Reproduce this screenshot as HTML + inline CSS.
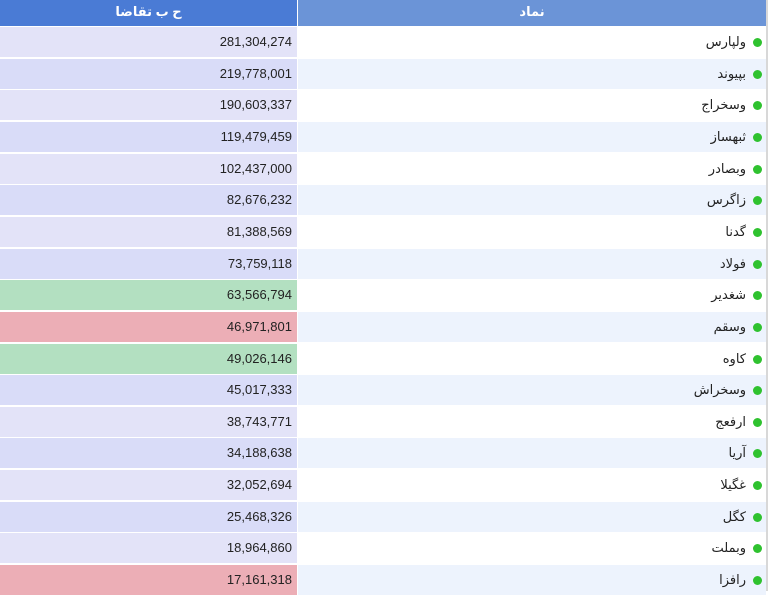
<!DOCTYPE html>
<html><head><meta charset="utf-8"><style>
body{margin:0;width:768px;height:591px;overflow:hidden;background:#fff;font-family:"Liberation Sans","DejaVu Sans",sans-serif;}
.hdr{position:absolute;top:0;height:26px;color:#fff;font-size:13px;font-weight:bold;text-align:center;line-height:24px;}
.row{position:absolute;left:0;width:766px;height:30px;}
.c1{position:absolute;left:0;width:297px;height:30px;text-align:right;box-sizing:border-box;padding-right:5px;line-height:30px;font-size:13px;color:#222;}
.c2{position:absolute;left:298px;width:468px;height:30px;box-sizing:border-box;padding-right:20px;text-align:right;direction:rtl;line-height:30px;font-size:13px;color:#222;font-family:"Liberation Sans","DejaVu Sans",sans-serif;}
.dot{position:absolute;right:4px;top:11px;width:9px;height:9px;border-radius:50%;background:#2fc22f;}
</style></head><body>
<div class="hdr" style="left:0;width:297px;background:#4a7bd5;">ح ب تقاضا</div>
<div class="hdr" style="left:298px;width:468px;background:#6b94d7;">نماد</div>
<div style="position:absolute;left:766px;top:0;width:2px;height:591px;background:#d8d8d8"></div>
<div id="tbl"></div>
<script>
const symbols=["ولپارس","بپیوند","وسخراج","ثبهساز","وبصادر","زاگرس","گدنا","فولاد","شغدیر","وسقم","کاوه","وسخراش","ارفعج","آریا","غگیلا","کگل","وبملت","رافزا"];
const values=["281,304,274","219,778,001","190,603,337","119,479,459","102,437,000","82,676,232","81,388,569","73,759,118","63,566,794","46,971,801","49,026,146","45,017,333","38,743,771","34,188,638","32,052,694","25,468,326","18,964,860","17,161,318"];
const status=["n","n","n","n","n","n","n","n","g","r","g","n","n","n","n","n","n","r"];
const tbl=document.getElementById('tbl');
symbols.forEach((s,i)=>{
  const r=document.createElement('div');r.className='row';
  
  
  r.style.top=(27+i*31.65)+'px';
  const c1=document.createElement('div');c1.className='c1';
  
  
  c1.textContent=values[i];
  c1.style.background=status[i]=='g'?'#b3e0c1':status[i]=='r'?'#ecaeb6':(i%2==0?'#e3e3f8':'#d9dcf8');
  const c2=document.createElement('div');c2.className='c2';
  
  
  c2.style.background=i%2==0?'#ffffff':'#edf3fd';
  c2.textContent=s;
  const d=document.createElement('span');d.className='dot';
  
  
  c2.appendChild(d);
  r.appendChild(c1);r.appendChild(c2);tbl.appendChild(r);
});
</script>
</body></html>
